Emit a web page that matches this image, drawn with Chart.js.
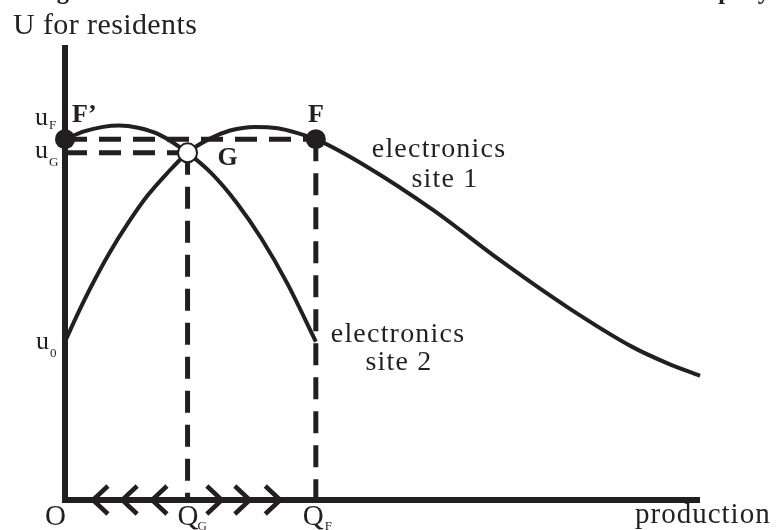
<!DOCTYPE html>
<html>
<head>
<meta charset="utf-8">
<script src="https://cdn.jsdelivr.net/npm/chart.js@4.4.0/dist/chart.umd.min.js"></script>
<style>
  html, body { margin: 0; padding: 0; background: #fff; }
  #wrap { width: 777px; height: 530px; position: relative; }
</style>
</head>
<body>
<div id="wrap"><canvas id="chart"></canvas></div>
<script>
const INK = '#231f20';
const SERIF = "'Liberation Serif', 'Times New Roman', serif";

// levels marked on the axes
const qG = 19.3, qF = 39.5;
const uF = 79.3, uG = 76.3, u0 = 34.8;

// electronics site 1: rises from u0, peaks past G, then falls away
const site1X = [0, 2, 4, 7, 10, 13, 16, 19.3, 22.5, 26, 29.9, 33.5, 36.5, 39.5, 47.6, 58.0, 68.5, 79.1, 89.4, 94.8, 100];
const site1U = [34.8, 40.9, 46.6, 54.3, 61.0, 66.9, 71.7, 76.3, 79.2, 81.2, 82.0, 81.7, 80.7, 79.3, 73.2, 63.7, 52.7, 42.4, 33.6, 30.1, 27.3];

// electronics site 2: starts at F', peaks early, drops to u0 at QF
const site2X = [0, 3, 6, 8.5, 11.5, 15, 19.3, 23, 27, 31, 35, 39.5];
const site2U = [79.3, 81.0, 82.0, 82.3, 81.8, 80.2, 76.3, 71.9, 65.4, 57.3, 47.6, 34.8];

// chevron tips along the production axis
const leftChevrons = [4.4, 9.0, 13.7];
const rightChevrons = [24.7, 29.1, 33.9];

const toPts = (xs, ys) => xs.map((x, i) => ({ x: x, y: ys[i] }));

const dashed = (pts) => ({
    data: pts,
    borderColor: INK,
    borderWidth: 5,
    borderDash: [22, 12],
    pointRadius: 0,
    fill: false,
    clip: false,
    order: 3
});

const curve = (label, pts) => ({
    label: label,
    data: pts,
    borderColor: INK,
    borderWidth: 4,
    cubicInterpolationMode: 'monotone',
    pointRadius: 0,
    fill: false,
    clip: false,
    order: 1
});

function text(ctx, str, x, y, font, align, spacing) {
    ctx.font = font;
    ctx.textAlign = align || 'left';
    ctx.textBaseline = 'alphabetic';
    ctx.letterSpacing = (spacing || 0) + 'px';
    ctx.fillText(str, x, y);
    ctx.letterSpacing = '0px';
}

const decorations = {
    id: 'decorations',
    beforeDatasetsDraw(chart) {
        const { ctx, chartArea: a, scales: { x, y } } = chart;
        const x0 = x.getPixelForValue(0), y0 = y.getPixelForValue(0);
        ctx.save();
        ctx.strokeStyle = INK;
        ctx.lineWidth = 6;
        ctx.lineCap = 'butt';
        ctx.beginPath();
        ctx.moveTo(x0, a.top);
        ctx.lineTo(x0, y0 + 3);
        ctx.moveTo(x0 - 3, y0);
        ctx.lineTo(a.right, y0);
        ctx.stroke();
        ctx.restore();
    },
    afterDatasetsDraw(chart) {
        const { ctx, scales: { x, y } } = chart;
        const y0 = y.getPixelForValue(0);
        ctx.save();
        ctx.strokeStyle = INK;
        ctx.fillStyle = INK;
        ctx.lineWidth = 4.5;
        leftChevrons.forEach(v => {
            const px = x.getPixelForValue(v);
            ctx.beginPath();
            ctx.moveTo(px + 15, y0 - 14);
            ctx.lineTo(px, y0);
            ctx.lineTo(px + 15, y0 + 14);
            ctx.stroke();
        });
        rightChevrons.forEach(v => {
            const px = x.getPixelForValue(v);
            ctx.beginPath();
            ctx.moveTo(px - 15, y0 - 14);
            ctx.lineTo(px, y0);
            ctx.lineTo(px - 15, y0 + 14);
            ctx.stroke();
        });

        const xO = x.getPixelForValue(0);
        const xG = x.getPixelForValue(qG), xF = x.getPixelForValue(qF);
        const yF = y.getPixelForValue(uF), yG = y.getPixelForValue(uG), yU0 = y.getPixelForValue(u0);

        // figure title, mostly cut off by the top edge
        text(ctx, 'Figure 4: Welfare and the Location Choice of an Electronics Company', 35, -1, 'bold 24.5px ' + SERIF);

        text(ctx, 'U for residents', 13, 34, '30px ' + SERIF, 'left', 0.4);

        // utility levels on the vertical axis
        const big = '26px ' + SERIF, small = '13px ' + SERIF;
        text(ctx, 'u', xO - 30, yF - 14, big);
        text(ctx, 'F', xO - 16, yF - 10, small);
        text(ctx, 'u', xO - 30, yG + 5, big);
        text(ctx, 'G', xO - 16, yG + 13, small);
        text(ctx, 'u', xO - 29, yU0 + 7, big);
        text(ctx, '0', xO - 15, yU0 + 15, small);

        // production axis
        text(ctx, 'O', xO - 20, y0 + 25, '29px ' + SERIF);
        text(ctx, 'Q', xG - 10, y0 + 25, '29px ' + SERIF);
        text(ctx, 'G', xG + 10, y0 + 30, small);
        text(ctx, 'Q', xF - 13, y0 + 25, '29px ' + SERIF);
        text(ctx, 'F', xF + 9, y0 + 30, small);
        text(ctx, 'production', 635, y0 + 23, '29px ' + SERIF, 'left', 1);

        // point names
        const bold = 'bold 26px ' + SERIF;
        text(ctx, 'F\u2019', xO + 7, yF - 17, bold);
        text(ctx, 'F', xF, yF - 17, bold, 'center');
        text(ctx, 'G', xG + 30, yG + 12, bold);

        // curve names
        const lab = '28px ' + SERIF;
        text(ctx, 'electronics', 439, 157, lab, 'center', 1.2);
        text(ctx, 'site 1', 445, 187, lab, 'center', 1.2);
        text(ctx, 'electronics', 398, 342, lab, 'center', 1.2);
        text(ctx, 'site 2', 399, 370, lab, 'center', 1.2);
        ctx.restore();
    }
};

new Chart(document.getElementById('chart'), {
    type: 'line',
    data: {
        datasets: [
            {
                label: 'F points',
                data: [{ x: 0, y: uF }, { x: qF, y: uF }],
                showLine: false,
                pointRadius: 10,
                pointBackgroundColor: INK,
                pointBorderColor: INK,
                pointBorderWidth: 0,
                clip: false,
                order: 0
            },
            {
                label: 'G',
                data: [{ x: qG, y: uG }],
                showLine: false,
                pointRadius: 9.5,
                pointBackgroundColor: '#fff',
                pointBorderColor: INK,
                pointBorderWidth: 2,
                clip: false,
                order: 0
            },
            curve('electronics site 1', toPts(site1X, site1U)),
            curve('electronics site 2', toPts(site2X, site2U)),
            dashed([{ x: 0, y: uF }, { x: qF, y: uF }]),
            dashed([{ x: 0, y: uG }, { x: qG, y: uG }]),
            dashed([{ x: qG, y: uG }, { x: qG, y: 0 }]),
            dashed([{ x: qF, y: uF }, { x: qF, y: 0 }])
        ]
    },
    options: {
        responsive: true,
        maintainAspectRatio: false,
        animation: false,
        layout: {
            padding: { left: 65, right: 77, top: 45, bottom: 30 }
        },
        plugins: {
            legend: { display: false },
            tooltip: { enabled: false }
        },
        scales: {
            x: { type: 'linear', min: 0, max: 100, display: false },
            y: { type: 'linear', min: 0, max: 100, display: false }
        }
    },
    plugins: [decorations]
});
</script>
</body>
</html>
